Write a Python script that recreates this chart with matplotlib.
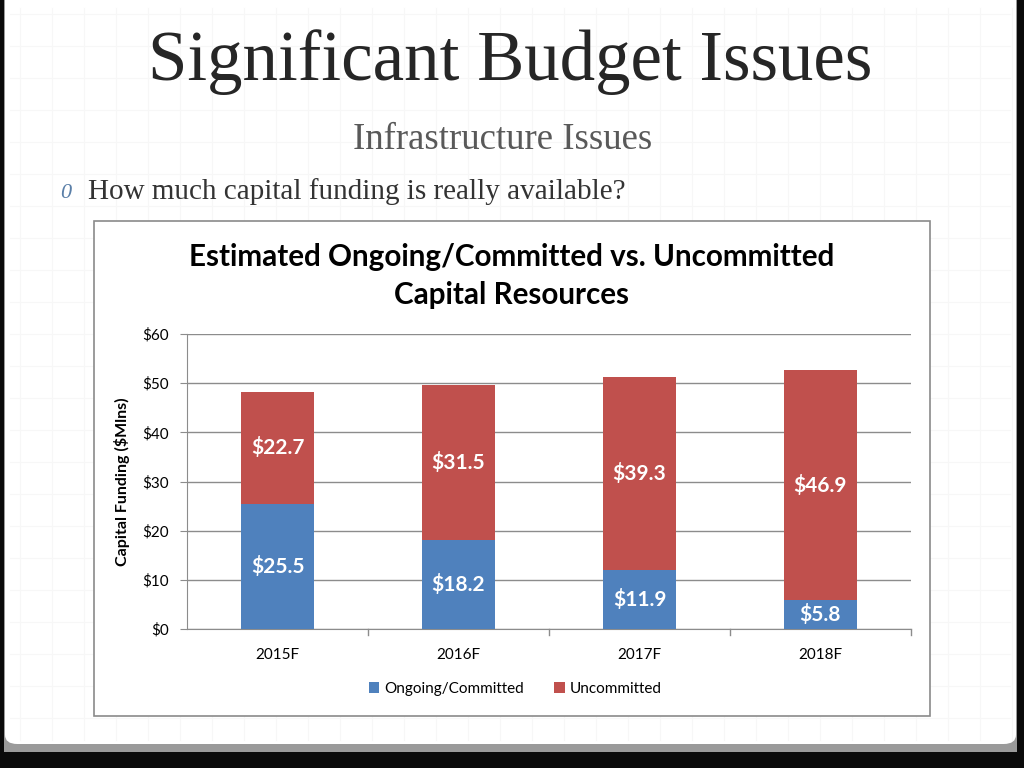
import numpy as np
import matplotlib.pyplot as plt
from matplotlib.patches import Rectangle, FancyBboxPatch

# chart data
years = ["2015F", "2016F", "2017F", "2018F"]
committed = [25.5, 18.2, 11.9, 5.8]
uncommitted = [22.7, 31.5, 39.3, 46.9]
y_ticks = [0, 10, 20, 30, 40, 50, 60]

BLUE = "#4F81BD"
RED = "#C0504D"
GRID = "#8c8c8c"

W, H = 1024, 768


def fx(px):
    return px / W


def fy(py):
    return 1 - py / H


fig = plt.figure(figsize=(W / 100, H / 100), dpi=100)
fig.patch.set_facecolor("#0a0a0a")

# slide page with a little shadow at the bottom
fig.patches.append(Rectangle((fx(4), fy(752)), fx(1013), 752 / H,
                             transform=fig.transFigure, facecolor="#9a9a9a",
                             edgecolor="none", zorder=0))
fig.patches.append(FancyBboxPatch((fx(5), fy(744)), fx(1011), 744 / H + 0.02,
                                  boxstyle="round,pad=0,rounding_size=0.012",
                                  transform=fig.transFigure, facecolor="white",
                                  edgecolor="none", zorder=0.5))

# faint background grid of the slide template
for gx in np.arange(20, 1017, 32):
    fig.lines.append(plt.Line2D([fx(gx), fx(gx)], [fy(8), fy(740)],
                                transform=fig.transFigure, color="#f7f7f7",
                                lw=0.8, zorder=0.6))
for gy in np.arange(14, 740, 32):
    fig.lines.append(plt.Line2D([fx(10), fx(1010)], [fy(gy), fy(gy)],
                                transform=fig.transFigure, color="#f7f7f7",
                                lw=0.8, zorder=0.6))

# slide texts
fig.text(fx(510), fy(62), "Significant Budget Issues", family="Liberation Serif",
         fontsize=51, color="#262626", ha="center", va="center")
fig.text(fx(503), fy(140), "Infrastructure Issues", family="Liberation Serif",
         fontsize=26.5, color="#595959", ha="center", va="center")
fig.text(fx(60), fy(193), "0", family="Liberation Serif", style="italic",
         fontsize=16, color="#5a7fa8", ha="left", va="center")
fig.text(fx(88), fy(192), "How much capital funding is really available?",
         family="Liberation Serif", fontsize=21, color="#333333",
         ha="left", va="center")

# chart frame
fig.patches.append(Rectangle((fx(94), fy(716)), fx(930 - 94), (716 - 221) / H,
                             transform=fig.transFigure, facecolor="white",
                             edgecolor="#8a8a8a", lw=1.2, zorder=1))

fig.text(fx(512), fy(276), "Estimated Ongoing/Committed vs. Uncommitted\nCapital Resources",
         family="Lato", weight="bold", fontsize=21.3, color="black",
         ha="center", va="center", linespacing=1.42, zorder=3)

ax = fig.add_axes([fx(187), fy(629), fx(911 - 187), (629 - 334) / H], zorder=2)
ax.set_facecolor("none")

x = np.arange(len(years))
b1 = ax.bar(x, committed, width=0.4, color=BLUE, zorder=3, label="Ongoing/Committed")
b2 = ax.bar(x, uncommitted, width=0.4, bottom=committed, color=RED, zorder=3,
            label="Uncommitted")

for i in range(len(years)):
    ax.text(x[i], committed[i] / 2, f"${committed[i]:.1f}", ha="center", va="center",
            color="white", weight="bold", fontsize=15, family="Lato", zorder=4)
    ax.text(x[i], committed[i] + uncommitted[i] / 2, f"${uncommitted[i]:.1f}",
            ha="center", va="center", color="white", weight="bold", fontsize=15,
            family="Lato", zorder=4)

ax.set_xlim(-0.5, 3.5)
ax.set_ylim(0, 60)
ax.set_yticks(y_ticks)
ax.set_yticklabels([f"${v}" for v in y_ticks], family="Lato", fontsize=11)
ax.set_xticks(x)
ax.set_xticklabels(years, family="Lato", fontsize=11)
ax.tick_params(axis="x", length=0, pad=14)
ax.tick_params(axis="y", length=5, color=GRID, pad=8)
for xb in [0.5, 1.5, 2.5, 3.5]:
    ax.plot([xb, xb], [0, -1.2], color=GRID, lw=1, clip_on=False, zorder=2)
ax.yaxis.grid(True, color=GRID, lw=1, zorder=0)
ax.set_axisbelow(True)
for s in ["top", "right"]:
    ax.spines[s].set_visible(False)
ax.spines["left"].set_color(GRID)
ax.spines["bottom"].set_color(GRID)
ax.set_ylabel("Capital Funding ($Mlns)", family="Lato", weight="bold", fontsize=11.5,
              labelpad=9)

leg = ax.legend(loc="center", bbox_to_anchor=(fx(515), fy(689)),
                bbox_transform=fig.transFigure, ncol=2, frameon=False,
                prop={"family": "Lato", "size": 11}, handlelength=0.7,
                handleheight=0.7, handletextpad=0.3, columnspacing=2.0)

fig.savefig("out.png", dpi=100, facecolor=fig.get_facecolor())
